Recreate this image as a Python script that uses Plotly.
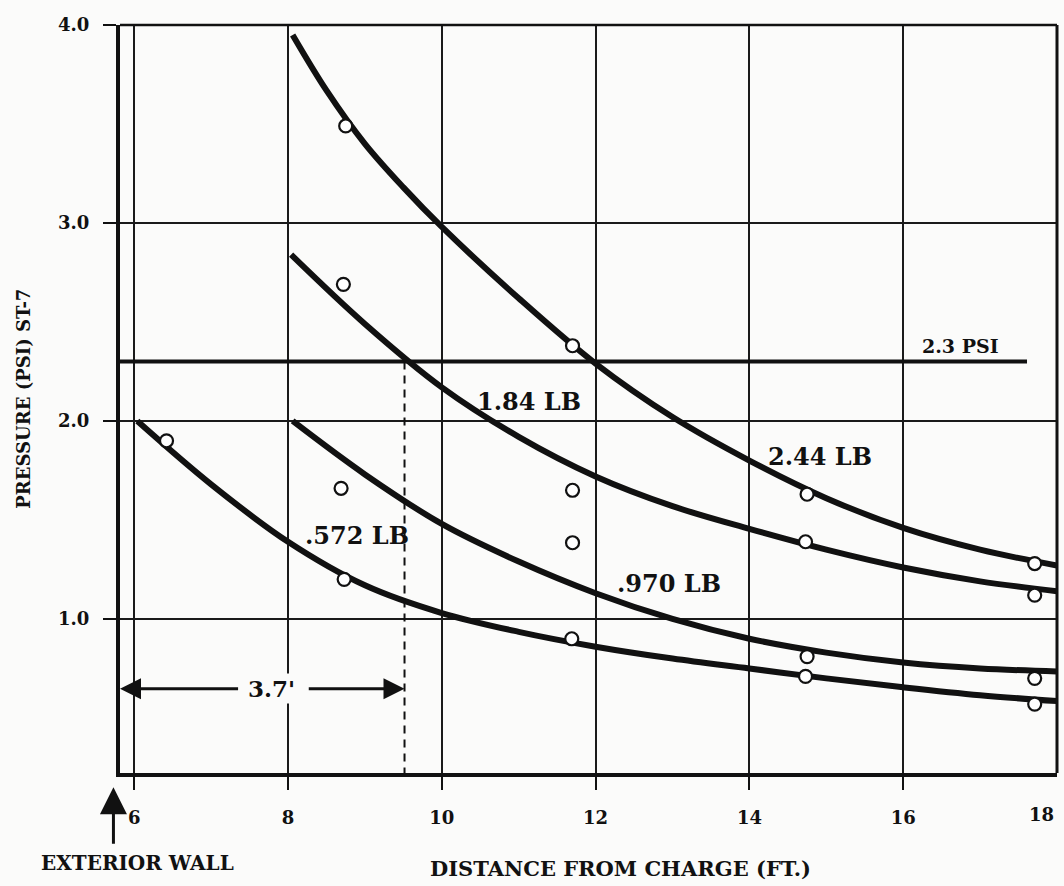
import plotly.graph_objects as go

# ---------------- data ----------------
x_tick_vals = [6, 8, 10, 12, 14, 16]
x_tick_text = ["6", "8", "10", "12", "14", "16"]
y_tick_vals = [1, 2, 3, 4]
y_tick_text = ["1.0", "2.0", "3.0", "4.0"]

x_range = [5.815, 18.0]
y_range = [0.222, 4.0]

charge_labels = ["2.44 LB", "1.84 LB", ".970 LB", ".572 LB"]

# faired curves
fit_x_244 = [8.06, 8.5, 9.0, 9.5, 10.0, 11.0, 12.0, 13.0, 14.0, 15.0, 16.0, 17.0, 18.0]
fit_y_244 = [3.95, 3.67, 3.40, 3.18, 2.98, 2.62, 2.29, 2.02, 1.80, 1.61, 1.46, 1.35, 1.27]

fit_x_184 = [8.04, 9.0, 10.0, 11.0, 12.0, 13.0, 14.0, 15.0, 16.0, 17.0, 18.0]
fit_y_184 = [2.84, 2.49, 2.17, 1.92, 1.72, 1.57, 1.455, 1.35, 1.26, 1.19, 1.14]

fit_x_970 = [8.06, 9.0, 10.0, 11.0, 12.0, 13.0, 14.0, 15.0, 16.0, 17.0, 18.0]
fit_y_970 = [2.00, 1.73, 1.48, 1.29, 1.13, 1.00, 0.90, 0.83, 0.78, 0.75, 0.735]

fit_x_572 = [6.04, 7.0, 8.0, 9.0, 10.0, 11.0, 12.0, 13.0, 14.0, 15.0, 16.0, 17.0, 18.0]
fit_y_572 = [2.00, 1.68, 1.39, 1.17, 1.03, 0.935, 0.86, 0.80, 0.75, 0.70, 0.655, 0.615, 0.585]

# measured points (open circles)
obs_x_244 = [8.75, 11.70, 14.75, 17.71]
obs_y_244 = [3.49, 2.38, 1.63, 1.28]
obs_x_184 = [8.72, 11.70, 14.73, 17.71]
obs_y_184 = [2.69, 1.65, 1.39, 1.12]
obs_x_970 = [8.69, 11.70, 14.75, 17.71]
obs_y_970 = [1.66, 1.385, 0.81, 0.70]
obs_x_572 = [6.42, 8.73, 11.69, 14.73, 17.71]
obs_y_572 = [1.90, 1.20, 0.90, 0.71, 0.57]

# label positions for the curve names
label_x = [14.92, 11.14, 12.96, 8.90]
label_y = [1.82, 2.10, 1.18, 1.42]

# reference level and wall offset
psi_level = 2.3
psi_label = "2.3 PSI"
psi_line_x = [5.815, 17.61]
wall_x = 5.815
wall_offset = 3.7
offset_label = "3.7'"
offset_arrow_y = 0.647

# ---------------- figure ----------------
INK = "#111111"
BG = "#fbfbfa"
FONT = "DejaVu Serif"

fig = go.Figure()

fits = [(fit_x_244, fit_y_244), (fit_x_184, fit_y_184),
        (fit_x_970, fit_y_970), (fit_x_572, fit_y_572)]
obs = [(obs_x_244, obs_y_244), (obs_x_184, obs_y_184),
       (obs_x_970, obs_y_970), (obs_x_572, obs_y_572)]

# 2.3 PSI line
fig.add_trace(go.Scatter(x=psi_line_x, y=[psi_level, psi_level], mode="lines",
                         line=dict(color=INK, width=4), showlegend=False,
                         hoverinfo="skip"))

for (fx, fy), name in zip(fits, charge_labels):
    fig.add_trace(go.Scatter(x=fx, y=fy, mode="lines", name=name,
                             line=dict(color=INK, width=6, shape="spline", smoothing=1.0),
                             showlegend=False))

for (ox, oy), name in zip(obs, charge_labels):
    fig.add_trace(go.Scatter(x=ox, y=oy, mode="markers", name=name + " data",
                             marker=dict(symbol="circle", size=13, color="white",
                                         line=dict(color=INK, width=2.2)),
                             showlegend=False))


def txt(size):
    return dict(family=FONT, size=size, color=INK, weight="bold")


annotations = []
for name, lx, ly in zip(charge_labels, label_x, label_y):
    annotations.append(dict(x=lx, y=ly, xref="x", yref="y", text=name, showarrow=False,
                            xanchor="center", yanchor="middle", font=txt(24)))

annotations.append(dict(x=16.75, y=2.38, xref="x", yref="y", text=psi_label, showarrow=False,
                        xanchor="center", yanchor="middle", font=txt(19)))

offset_x = wall_x + wall_offset
# 3.7' dimension arrows
annotations.append(dict(x=wall_x, y=offset_arrow_y, ax=7.37, ay=offset_arrow_y,
                        xref="x", yref="y", axref="x", ayref="y", text="",
                        showarrow=True, arrowhead=2, arrowsize=1.4, arrowwidth=3,
                        arrowcolor=INK))
annotations.append(dict(x=offset_x, y=offset_arrow_y, ax=8.25, ay=offset_arrow_y,
                        xref="x", yref="y", axref="x", ayref="y", text="",
                        showarrow=True, arrowhead=2, arrowsize=1.4, arrowwidth=3,
                        arrowcolor=INK))
annotations.append(dict(x=7.78, y=offset_arrow_y, xref="x", yref="y", text=offset_label,
                        showarrow=False, bgcolor=BG, xanchor="center", yanchor="middle",
                        font=txt(23)))

# exterior wall arrow and label
annotations.append(dict(x=-0.007, y=-0.019, xref="paper", yref="paper", text="",
                        showarrow=True, ax=0, ay=58, arrowhead=2, arrowsize=1.8,
                        arrowwidth=3, arrowcolor=INK))
annotations.append(dict(x=0.0187, y=-0.12, xref="paper", yref="paper",
                        text="EXTERIOR WALL", showarrow=False,
                        xanchor="center", yanchor="middle", font=txt(20)))

# axis titles
annotations.append(dict(x=0.534, y=-0.128, xref="paper", yref="paper",
                        text="DISTANCE FROM CHARGE (FT.)", showarrow=False,
                        xanchor="center", yanchor="middle", font=txt(21)))
annotations.append(dict(x=-0.103, y=0.501, xref="paper", yref="paper",
                        text="PRESSURE (PSI) ST-7", showarrow=False, textangle=-90,
                        xanchor="center", yanchor="middle", font=txt(18)))
# last x tick label (kept inside the page)
annotations.append(dict(x=0.999, y=-0.056, xref="paper", yref="paper", text="18",
                        showarrow=False, xanchor="right", yanchor="middle", font=txt(18)))

shapes = [
    # dashed offset line
    dict(type="line", xref="x", yref="y", x0=offset_x, x1=offset_x,
         y0=psi_level, y1=y_range[0], line=dict(color=INK, width=2, dash="8px,6px")),
    # top and right borders
    dict(type="line", xref="paper", yref="paper", x0=0, x1=1, y0=1, y1=1,
         line=dict(color=INK, width=2.5)),
    dict(type="line", xref="paper", yref="paper", x0=1, x1=1, y0=0, y1=1,
         line=dict(color=INK, width=3)),
]

fig.update_layout(
    width=1064, height=886, autosize=False,
    margin=dict(l=120, r=7, t=25, b=113),
    paper_bgcolor=BG, plot_bgcolor=BG,
    annotations=annotations, shapes=shapes,
    font=dict(family=FONT, color=INK),
)

fig.update_xaxes(range=x_range, tickvals=x_tick_vals, ticktext=x_tick_text,
                 ticks="outside", ticklen=13, tickwidth=2, tickcolor=INK,
                 showgrid=True, gridcolor="#1a1a1a", gridwidth=2,
                 showline=True, linewidth=4, linecolor=INK, zeroline=False,
                 tickfont=txt(18), ticklabelstandoff=12)
fig.update_yaxes(range=y_range, tickvals=y_tick_vals, ticktext=y_tick_text,
                 ticks="outside", ticklen=13, tickwidth=2, tickcolor=INK,
                 showgrid=True, gridcolor="#1a1a1a", gridwidth=2,
                 showline=True, linewidth=4, linecolor=INK, zeroline=False,
                 tickfont=txt(18), ticklabelstandoff=10)

fig.write_html("out.html", config={"displayModeBar": False},
               post_script="document.body.style.margin='0px';document.body.style.overflow='hidden';")
